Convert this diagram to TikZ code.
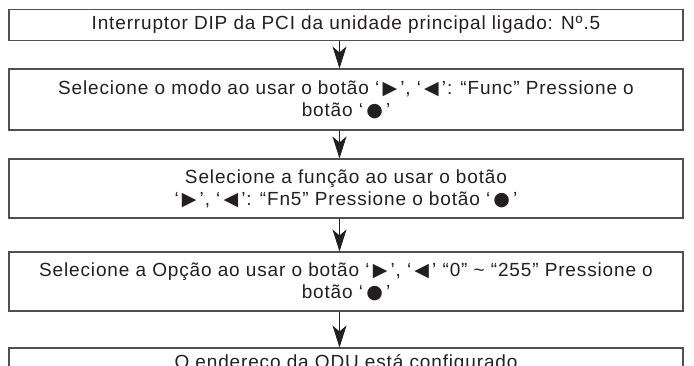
\documentclass[tikz,border=0pt]{standalone}
\usepackage{fontspec}
\setmainfont{Liberation Sans}[LetterSpace=4.5]
\newfontfamily\symfont{DejaVu Sans}
\usepackage{xcolor}
\usetikzlibrary{arrows.meta}
\definecolor{ctext}{RGB}{35,31,32}
\definecolor{cline}{RGB}{80,80,80}
\newcommand{\btnright}{\,{\symfont\char"25B6}\,}
\newcommand{\btnleft}{\,{\symfont\char"25C0}\,}
\newcommand{\btnok}{\,{\symfont\char"25CF}\,}

\begin{document}
\begin{tikzpicture}[x=1pt, y=-1pt,
  stepbox/.style={draw=cline, line width=1.1pt, align=center, text=ctext,
                  minimum width=674pt, inner sep=0pt,
                  font=\fontsize{19}{22}\selectfont},
  flow/.style={-{Stealth[length=22pt, width=14pt, inset=6pt]}, line width=0.8pt, draw=ctext}]
\useasboundingbox (0,0) rectangle (694,365);
\node[stepbox, minimum height=31pt] (s1) at (346,25)    {Interruptor DIP da PCI da unidade principal ligado: Nº.5};
\node[stepbox, minimum height=61pt] (s2) at (346,99.5)  {Selecione o modo ao usar o botão ‘\btnright’, ‘\btnleft’: “Func” Pressione o\\botão ‘\btnok’};
\node[stepbox, minimum height=59pt] (s3) at (346,188.5) {Selecione a função ao usar o botão\\‘\btnright’, ‘\btnleft’: “Fn5” Pressione o botão ‘\btnok’};
\node[stepbox, minimum height=59pt] (s4) at (346,281.5) {Selecione a Opção ao usar o botão ‘\btnright’, ‘\btnleft’ “0” \textasciitilde{} “255” Pressione o\\botão ‘\btnok’};
\node[stepbox, minimum height=31pt] (s5) at (346,363.5) {O endereço da ODU está configurado};
% arrows between the steps
\foreach \a/\b in {s1/s2, s2/s3, s3/s4, s4/s5}
  \draw[flow] ([xshift=-6.5pt]\a.south) -- ([xshift=-6.5pt]\b.north);
\end{tikzpicture}
\end{document}
